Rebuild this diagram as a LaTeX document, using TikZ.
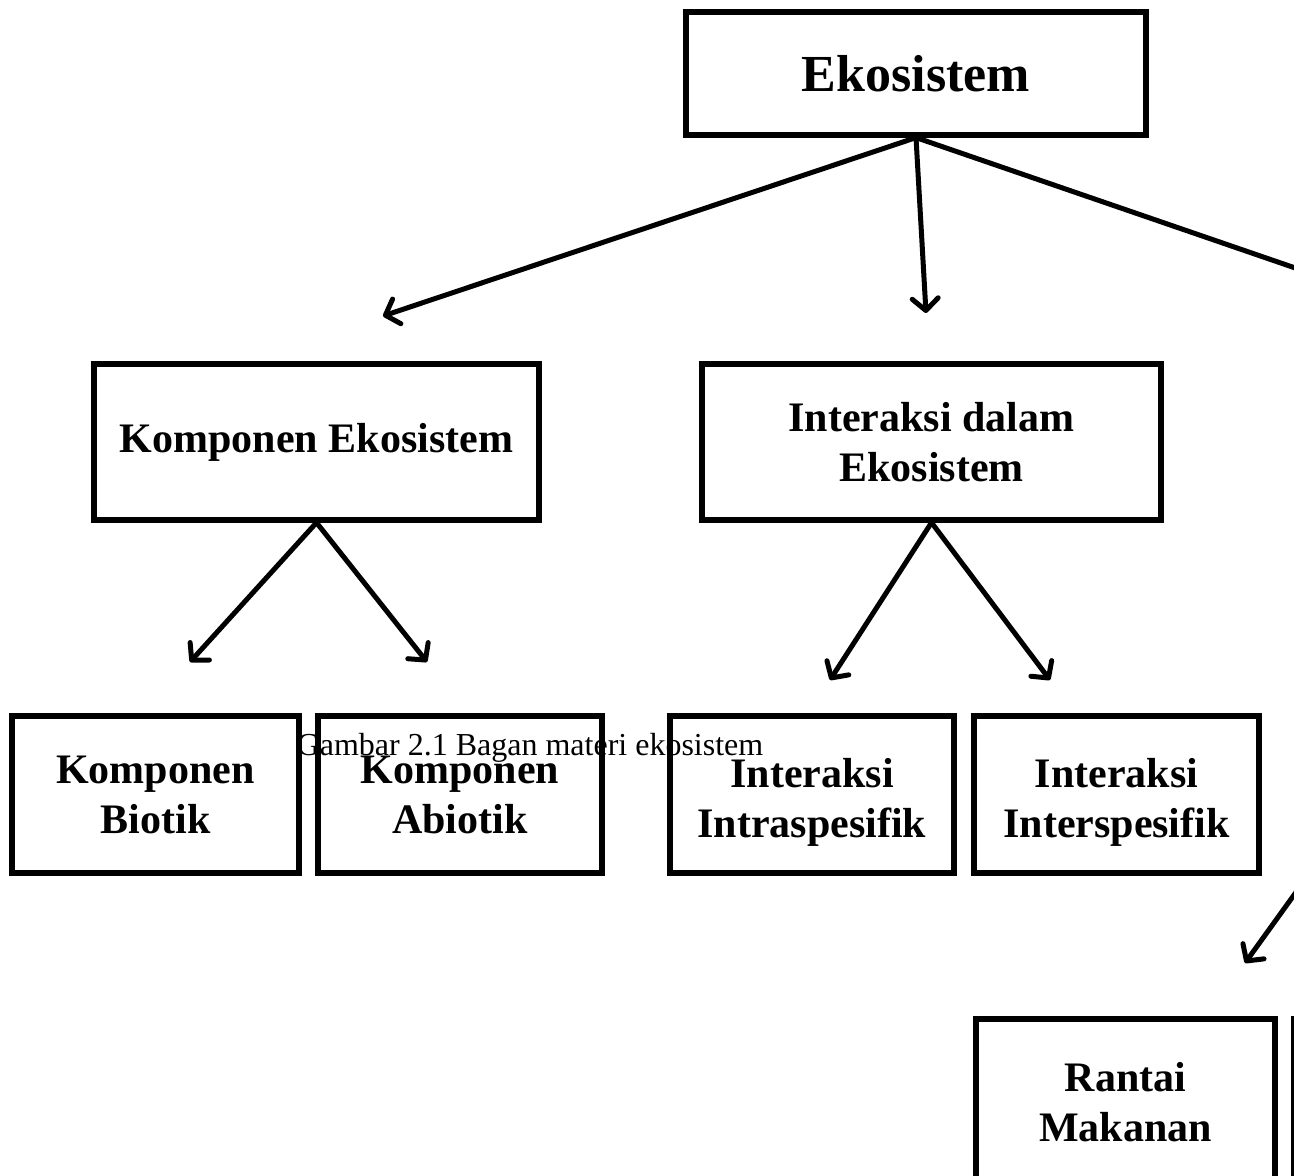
\documentclass[tikz,border=0pt]{standalone}
\usepackage{fontspec}
\setmainfont{Liberation Serif}
\usetikzlibrary{arrows.meta}

\begin{document}
\begin{tikzpicture}[x=0.5pt,y=-0.5pt,
  box/.style={draw,line width=2.6pt,align=center,inner sep=0pt,
    font=\fontsize{21}{25}\selectfont\bfseries},
  panah/.style={line width=2.5pt,line cap=round,
    -{Straight Barb[length=6pt,width=13pt,round]}}]
  \useasboundingbox (0,0) rectangle (1294,1176);
  \clip (0,0) rectangle (1294,1176);
  \node[font=\fontsize{16}{19}\selectfont] (judul) at (530,748) {Gambar 2.1 Bagan materi ekosistem};
  % boxes
  \node[box,minimum width=230pt,minimum height=61.5pt,
    font=\fontsize{26}{30}\selectfont\bfseries] (eko) at (916,73.5) {Ekosistem};
  \node[box,minimum width=222.5pt,minimum height=78pt] (komp) at (316.5,442) {Komponen Ekosistem};
  \node[box,minimum width=229.5pt,minimum height=78pt] (inter) at (931.5,442) {Interaksi dalam\\Ekosistem};
  \node[box,minimum width=143.5pt,minimum height=78.5pt] (biotik) at (155.5,794.5) {Komponen\\Biotik};
  \node[box,minimum width=142pt,minimum height=78.5pt] (abiotik) at (460,794.5) {Komponen\\Abiotik};
  \node[box,minimum width=142pt,minimum height=78.5pt,text depth=0pt] (intra) at (812,794.5) {\strut Interaksi\\\strut Intraspesifik};
  \node[box,minimum width=142.5pt,minimum height=78.5pt,text depth=0pt] (antar) at (1116.5,794.5) {\strut Interaksi\\\strut Interspesifik};
  \node[box,minimum width=149.5pt,minimum height=83pt] (rantai) at (1125.5,1102) {Rantai\\Makanan};
  \node[box,minimum width=149.5pt,minimum height=83pt] (lain) at (1443,1102) {};
  % free ends
  \coordinate (ujungKiri) at (383,316);
  \coordinate (ujungTengah) at (926,313);
  \coordinate (ujungKanan) at (1400,304);
  \coordinate (ujungBiotik) at (190,662);
  \coordinate (ujungAbiotik) at (427,662);
  \coordinate (ujungIntra) at (830,680);
  \coordinate (ujungAntar) at (1050,680);
  \coordinate (pangkalRantai) at (1330,845);
  \coordinate (ujungRantai) at (1245,963);
  % arrows
  \draw[panah] (eko.south) -- (ujungKiri);
  \draw[panah] (eko.south) -- (ujungTengah);
  \draw[panah] (eko.south) -- (ujungKanan);
  \draw[panah] (komp.south) -- (ujungBiotik);
  \draw[panah] (komp.south) -- (ujungAbiotik);
  \draw[panah] (inter.south) -- (ujungIntra);
  \draw[panah] (inter.south) -- (ujungAntar);
  \draw[panah] (pangkalRantai) -- (ujungRantai);
\end{tikzpicture}
\end{document}
